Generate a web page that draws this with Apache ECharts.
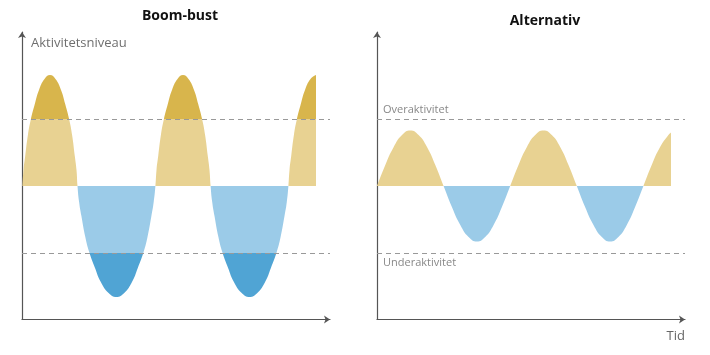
<!DOCTYPE html>
<html>
<head>
<meta charset="utf-8">
<script src="https://cdn.jsdelivr.net/npm/echarts@6/dist/echarts.min.js"></script>
<style>
html,body{margin:0;padding:0;background:#fff;}
#c{width:710px;height:355px;}
</style>
</head>
<body>
<div id="c"></div>
<script>
// Titles and axis texts
var titles = ['Boom-bust', 'Alternativ'];
var yName = 'Aktivitetsniveau';
var xName = 'Tid';
var levelLabels = ['Overaktivitet', 'Underaktivitet'];
var thresholds = [67, -67];

// Boom-bust wave (time, activity deviation)
var leftX = [
  0.4, 1.5, 3.2, 5.9, 8.7, 12.8, 17.0, 22.5, 28, 33.5, 39.0, 43.2, 47.3, 50.1, 52.8, 54.5,
  55.5, 57.1, 59.4, 63.3, 67.2, 73.0, 78.8, 86.6, 94.4, 102.2, 110.0, 115.8, 121.6, 125.5, 129.4, 131.7,
  133.4, 134.5, 136.2, 138.9, 141.7, 145.8, 150.0, 155.5, 161.0, 166.5, 172.0, 176.2, 180.3, 183.1, 185.8, 187.5,
  188.6, 190.2, 192.5, 196.4, 200.3, 206.1, 211.9, 219.7, 227.5, 235.3, 243.1, 248.9, 254.7, 258.6, 262.5, 264.8,
  266.4, 267.5, 269.2, 271.9, 274.7, 278.8, 283.0, 288.5, 294
];
var leftY = [
  0, 16, 30, 51, 66, 82, 96, 107, 111, 107, 96, 82, 66, 51, 30, 16,
  0, -16, -30, -51, -66, -82, -96, -107, -111, -107, -96, -82, -66, -51, -30, -16,
  0, 16, 30, 51, 66, 82, 96, 107, 111, 107, 96, 82, 66, 51, 30, 16,
  0, -16, -30, -51, -66, -82, -96, -107, -111, -107, -96, -82, -66, -51, -30, -16,
  0, 16, 30, 51, 66, 82, 96, 107, 111
];

// Alternative wave
var rightX = [0, 8.3, 16.7, 25.0, 33.3, 41.6, 50.0, 58.3, 66.6, 74.9, 83.3, 91.6, 99.9, 108.2, 116.6, 124.9,
  133.2, 141.5, 149.9, 158.2, 166.5, 174.8, 183.2, 191.5, 199.8, 208.1, 216.5, 224.8, 233.1, 241.4, 249.8, 258.1,
  266.4, 274.7, 283.1, 291.4, 294];
var rightY = [0, 21, 39, 51, 55.5, 51, 39, 21, 0, -21, -39, -51, -55.5, -51, -39, -21,
  0, 21, 39, 51, 55.5, 51, 39, 21, 0, -21, -39, -51, -55.5, -51, -39, -21,
  0, 21, 39, 51, 53.5];

function pairs(xs, ys) {
  var out = [];
  for (var i = 0; i < xs.length; i++) out.push([xs[i], ys[i]]);
  return out;
}

var FONT = 'Open Sans';
var axisColor = '#555';

function makeX(idx, withName) {
  return {
    type: 'value', gridIndex: idx, min: 0, max: 308,
    axisLine: { show: true, onZero: false, symbol: ['none', 'arrow'], symbolSize: [6, 6], lineStyle: { color: axisColor, width: 1.2 } },
    axisTick: { show: false }, axisLabel: { show: false }, splitLine: { show: false },
    name: withName ? xName : '', nameLocation: 'end', nameGap: 0,
    nameTextStyle: { align: 'right', verticalAlign: 'top', padding: [10, 0, 0, 0], fontSize: 13, color: '#666', fontFamily: FONT }
  };
}
function makeY(idx, withName) {
  return {
    type: 'value', gridIndex: idx, min: -133.5, max: 154,
    axisLine: { show: true, onZero: false, symbol: ['none', 'arrow'], symbolSize: [6, 6], lineStyle: { color: axisColor, width: 1.2 } },
    axisTick: { show: false }, axisLabel: { show: false }, splitLine: { show: false },
    name: withName ? yName : '', nameLocation: 'end', nameGap: -11,
    nameTextStyle: { align: 'left', verticalAlign: 'middle', padding: [0, 0, 0, 9], fontSize: 13, color: '#6f6f6f', fontFamily: FONT }
  };
}

var dashStyle = { type: [5, 4], color: '#999', width: 1 };

var chart = echarts.init(document.getElementById('c'));
chart.setOption({
  backgroundColor: '#fff',
  animation: false,
  textStyle: { fontFamily: FONT },
  title: [
    { text: titles[0], left: 175, top: 4, textAlign: 'center', textStyle: { fontSize: 14, fontWeight: 'bold', color: '#111', fontFamily: FONT } },
    { text: titles[1], left: 540, top: 9, textAlign: 'center', textStyle: { fontSize: 14, fontWeight: 'bold', color: '#111', fontFamily: FONT } }
  ],
  grid: [
    { left: 22, top: 32, width: 308, bottom: 35.5 },
    { left: 377, top: 32, width: 308, bottom: 35.5 }
  ],
  xAxis: [makeX(0, false), makeX(1, true)],
  yAxis: [makeY(0, true), makeY(1, false)],
  visualMap: {
    show: false, type: 'piecewise', dimension: 1, seriesIndex: [0, 1],
    pieces: [
      { lt: thresholds[1], color: '#50a4d4' },
      { gte: thresholds[1], lt: 0, color: '#9bcbe8' },
      { gte: 0, lt: thresholds[0], color: '#e8d292' },
      { gte: thresholds[0], color: '#d8b54c' }
    ]
  },
  series: [
    {
      type: 'line', xAxisIndex: 0, yAxisIndex: 0, data: pairs(leftX, leftY),
      smooth: 0.5, showSymbol: false, silent: true,
      lineStyle: { width: 0 }, areaStyle: { opacity: 1, origin: 0 },
      markLine: {
        silent: true, symbol: ['none', 'none'], lineStyle: dashStyle, label: { show: false },
        data: [{ yAxis: thresholds[0] }, { yAxis: thresholds[1] }]
      }
    },
    {
      type: 'line', xAxisIndex: 1, yAxisIndex: 1, data: pairs(rightX, rightY),
      smooth: 0.5, showSymbol: false, silent: true,
      lineStyle: { width: 0 }, areaStyle: { opacity: 1, origin: 0 },
      markLine: {
        silent: true, symbol: ['none', 'none'], lineStyle: dashStyle,
        data: [
          { yAxis: thresholds[0], label: { show: true, formatter: levelLabels[0], position: 'insideStartTop', distance: [6, 4], fontSize: 11, color: '#888', fontFamily: FONT } },
          { yAxis: thresholds[1], label: { show: true, formatter: levelLabels[1], position: 'insideStartBottom', distance: [6, 4], fontSize: 11, color: '#888', fontFamily: FONT } }
        ]
      }
    }
  ]
});
</script>
</body>
</html>
